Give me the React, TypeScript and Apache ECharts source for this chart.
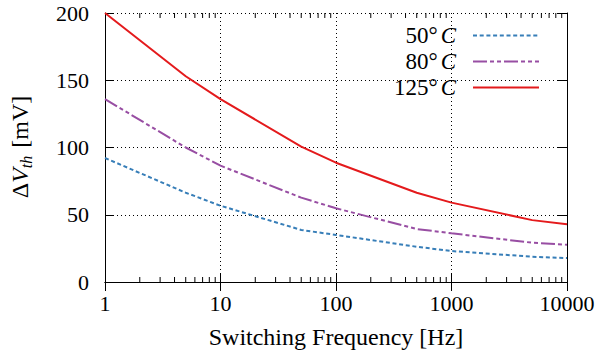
import React, { useEffect, useRef } from "react";
import * as echarts from "echarts";

const freq = [1, 5, 10, 50, 100, 500, 1000, 5000, 10000];
const v50 = [92.2, 66.4, 56.7, 38.7, 35, 26.2, 23, 18.8, 17.8];
const v80 = [136, 100, 86.5, 62.7, 54.8, 39.4, 36.2, 29.2, 27.7];
const v125 = [200, 153, 136, 100.6, 88.7, 66.4, 59, 46, 43];
const seriesNames = ["50°C", "80°C", "125°C"];
const minorTickValues = [
  2, 3, 4, 5, 6, 7, 8, 9,
  20, 30, 40, 50, 60, 70, 80, 90,
  200, 300, 400, 500, 600, 700, 800, 900,
  2000, 3000, 4000, 5000, 6000, 7000, 8000, 9000,
];

const FONT = "'Liberation Serif', serif";

export default function App() {
  const ref = useRef<HTMLDivElement>(null);
  useEffect(() => {
    if (!ref.current) return;
    const chart = echarts.init(ref.current, undefined, { renderer: "svg" });
    const pairs = (ys: number[]) => freq.map((f, i) => [f, ys[i]]);
    const axisCommonX = {
      type: "log" as const,
      logBase: 10,
      min: 1,
      max: 10000,
      axisLine: { show: true, lineStyle: { color: "#000", width: 1 } },
      axisTick: { show: true, inside: true, length: 9, lineStyle: { color: "#000" } },
    };
    const axisCommonY = {
      type: "value" as const,
      min: 0,
      max: 200,
      interval: 50,
      axisLine: { show: true, lineStyle: { color: "#000", width: 1 } },
      axisTick: { show: true, inside: true, length: 9, lineStyle: { color: "#000" } },
    };
    const legendRich = {
      n: { fontFamily: FONT, fontSize: 23, lineHeight: 22, color: "#000" },
      i: {
        fontFamily: FONT,
        fontSize: 23,
        lineHeight: 22,
        fontStyle: "italic",
        color: "#000",
        padding: [0, 12, 0, 3],
      },
    };
    chart.setOption({
      animation: false,
      grid: { left: 105, right: 35, top: 13, bottom: 80 },
      xAxis: [
        {
          ...axisCommonX,
          position: "bottom",
          axisLabel: {
            fontFamily: FONT,
            fontSize: 22,
            color: "#000",
            margin: 10,
            formatter: (v: number) => String(Math.round(v)),
          },
          splitLine: { show: true, lineStyle: { color: "#000", type: [1, 3], width: 1 } },
          name: "Switching Frequency [Hz]",
          nameLocation: "middle",
          nameGap: 43,
          nameTextStyle: { fontFamily: FONT, fontSize: 24, color: "#000" },
        },
        {
          ...axisCommonX,
          position: "top",
          axisLabel: { show: false },
          splitLine: { show: false },
        },
      ],
      yAxis: [
        {
          ...axisCommonY,
          position: "left",
          axisLabel: { fontFamily: FONT, fontSize: 22, color: "#000", margin: 16 },
          splitLine: { show: true, lineStyle: { color: "#000", type: [1, 3], width: 1 } },
        },
        {
          ...axisCommonY,
          position: "right",
          axisLabel: { show: false },
          splitLine: { show: false },
        },
      ],
      legend: {
        data: seriesNames,
        orient: "vertical",
        align: "right",
        right: 62,
        top: 24,
        padding: 0,
        itemGap: 3,
        itemWidth: 66,
        itemHeight: 14,
        itemStyle: { opacity: 0 },
        lineStyle: { width: 2 },
        formatter: (name: string) => `{n|${name.slice(0, -1)}}{i|C}`,
        textStyle: { rich: legendRich },
      },
      graphic: [
        {
          type: "text",
          x: 20,
          y: 147,
          rotation: Math.PI / 2,
          style: {
            text: "{d|Δ}{v|V}{s|th}{d| [mV]}",
            align: "center",
            verticalAlign: "middle",
            rich: {
              d: { fontFamily: FONT, fontSize: 24, color: "#000", lineHeight: 28, verticalAlign: "middle" },
              v: { fontFamily: FONT, fontSize: 24, fontStyle: "italic", color: "#000", lineHeight: 28, verticalAlign: "middle" },
              s: { fontFamily: FONT, fontSize: 16, fontStyle: "italic", color: "#000", lineHeight: 16, verticalAlign: "bottom", padding: [0, 2, 0, 0] },
            },
          },
        },
      ],
      series: [
        {
          name: seriesNames[0],
          type: "line",
          data: pairs(v50),
          symbol: "none",
          lineStyle: { color: "#377eb8", width: 2, type: [4, 2.7] },
          itemStyle: { color: "#377eb8" },
        },
        {
          name: seriesNames[1],
          type: "line",
          data: pairs(v80),
          symbol: "none",
          lineStyle: { color: "#984ea3", width: 2, type: [14, 3, 4, 3, 4, 3] },
          itemStyle: { color: "#984ea3" },
        },
        {
          name: seriesNames[2],
          type: "line",
          data: pairs(v125),
          symbol: "none",
          lineStyle: { color: "#e41a1c", width: 2 },
          itemStyle: { color: "#e41a1c" },
        },
        {
          name: "minorTicks",
          type: "custom",
          data: minorTickValues.map((v) => [v, 0]),
          silent: true,
          renderItem: (params: any, api: any) => {
            const v = api.value(0);
            const b = api.coord([v, 0]);
            const t = api.coord([v, 200]);
            const style = { stroke: "#000", lineWidth: 1 };
            return {
              type: "group",
              children: [
                { type: "line", shape: { x1: b[0], y1: b[1], x2: b[0], y2: b[1] - 5 }, style },
                { type: "line", shape: { x1: t[0], y1: t[1], x2: t[0], y2: t[1] + 5 }, style },
              ],
            };
          },
        },
      ],
    });
    return () => chart.dispose();
  }, []);
  return (
    <div
      ref={ref}
      style={{ position: "absolute", left: 0, top: 0, width: 602, height: 362 }}
    />
  );
}
